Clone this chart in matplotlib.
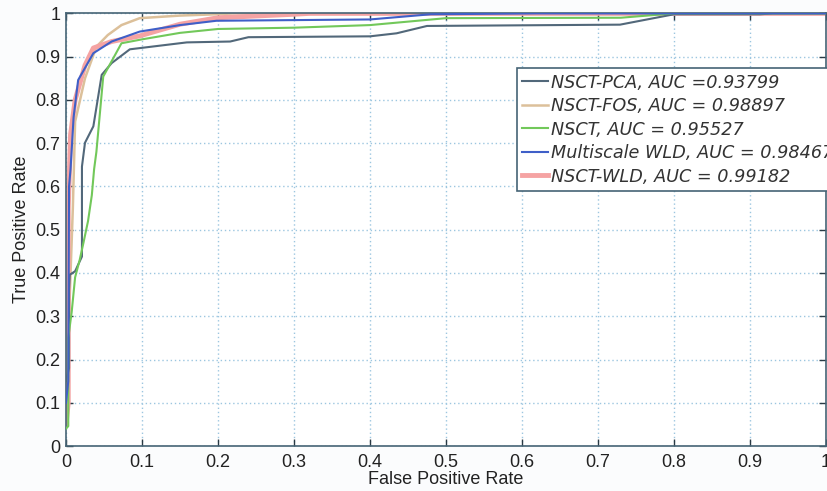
import numpy as np
import matplotlib.pyplot as plt

plt.rcParams['font.family'] = ['Liberation Sans', 'DejaVu Sans']

labels = ["NSCT-PCA, AUC =0.93799",
          "NSCT-FOS, AUC = 0.98897",
          "NSCT, AUC = 0.95527",
          "Multiscale WLD, AUC = 0.98467",
          "NSCT-WLD, AUC = 0.99182"]

pca_fpr = [0, 0.004, 0.004, 0.005, 0.012, 0.021, 0.021, 0.025, 0.036, 0.047, 0.06, 0.084,
           0.159, 0.216, 0.24, 0.40, 0.435, 0.475, 0.729, 0.80, 0.913, 0.93, 1.0]
pca_tpr = [0.15, 0.18, 0.36, 0.396, 0.404, 0.438, 0.646, 0.701, 0.739, 0.858, 0.885, 0.917,
           0.933, 0.935, 0.945, 0.947, 0.954, 0.971, 0.974, 0.998, 0.998, 1.0, 1.0]

fos_fpr = [0, 0.003, 0.006, 0.009, 0.012, 0.025, 0.04, 0.055, 0.073, 0.097, 0.15, 0.198, 0.22, 1.0]
fos_tpr = [0.22, 0.25, 0.40, 0.55, 0.75, 0.85, 0.923, 0.95, 0.973, 0.989, 0.995, 0.998, 1.0, 1.0]

nsct_fpr = [0, 0.003, 0.003, 0.0075, 0.012, 0.018, 0.023, 0.029, 0.034, 0.037, 0.040, 0.049,
            0.073, 0.1, 0.15, 0.2, 0.3, 0.4, 0.5, 0.73, 0.8, 1.0]
nsct_tpr = [0.04, 0.046, 0.25, 0.31, 0.39, 0.43, 0.47, 0.52, 0.58, 0.64, 0.68, 0.854,
            0.931, 0.94, 0.955, 0.964, 0.967, 0.973, 0.989, 0.99, 1.0, 1.0]

mwld_fpr = [0, 0.003, 0.004, 0.006, 0.01, 0.016, 0.036, 0.06, 0.097, 0.15, 0.198, 0.40,
            0.48, 0.62, 1.0]
mwld_tpr = [0.10, 0.15, 0.60, 0.64, 0.76, 0.846, 0.908, 0.935, 0.958, 0.973, 0.983, 0.986,
            0.998, 1.0, 1.0]

wld_fpr = [0, 0.003, 0.003, 0.006, 0.012, 0.025, 0.036, 0.06, 0.097, 0.15, 0.2, 0.3, 0.32, 1.0]
wld_tpr = [0.05, 0.10, 0.55, 0.72, 0.80, 0.88, 0.92, 0.935, 0.948, 0.975, 0.99, 0.998, 1.0, 1.0]

ticks = np.round(np.arange(0, 1.01, 0.1), 1)
tick_labels = ["0"] + [f"{t:g}" for t in ticks[1:-1]] + ["1"]

fig = plt.figure(figsize=(8.28, 4.91), dpi=100, facecolor='#fbfcfd')
ax = fig.add_axes([0.0797, 0.0916, 0.9179, 0.8811])
ax.set_facecolor('white')

ax.plot(pca_fpr, pca_tpr, color='#52687a', lw=1.5, label=labels[0], zorder=3)
ax.plot(fos_fpr, fos_tpr, color='#dcc09a', lw=1.8, label=labels[1], zorder=2)
ax.plot(nsct_fpr, nsct_tpr, color='#72c85a', lw=1.5, label=labels[2], zorder=3)
ax.plot(mwld_fpr, mwld_tpr, color='#3f5fc8', lw=1.5, label=labels[3], zorder=4)
ax.plot(wld_fpr, wld_tpr, color='#f5a3a3', lw=3.5, label=labels[4], zorder=2)

ax.set_xlim(0, 1)
ax.set_ylim(0, 1)
ax.set_xticks(ticks)
ax.set_yticks(ticks)
ax.set_xticklabels(tick_labels)
ax.set_yticklabels(tick_labels)
ax.tick_params(direction='in', length=5, width=1, colors='#2a3a44', labelsize=13,
               top=True, right=True, labelcolor='#222222')
ax.tick_params(axis='x', pad=6)
ax.tick_params(axis='y', pad=4)
ax.grid(True, linestyle=(0, (1, 2)), color='#9cc6e0', lw=1)
for s in ax.spines.values():
    s.set_color('#466475')
    s.set_linewidth(1.2)

ax.set_xlabel('False Positive Rate', fontsize=13, color='#222222', labelpad=0)
ax.set_ylabel('True Positive Rate', fontsize=13, color='#222222', labelpad=4)

leg = ax.legend(loc='upper left', bbox_to_anchor=(0.593, 0.873),
                prop={'family': 'DejaVu Sans', 'style': 'oblique', 'size': 12.7},
                handlelength=1.5, handletextpad=0.12,
                borderpad=0.3, labelspacing=0.31, fancybox=False, framealpha=1,
                edgecolor='#466475', borderaxespad=0)
leg.get_frame().set_linewidth(1.2)
for t in leg.get_texts():
    t.set_color('#333333')

fig.savefig('out.png', dpi=100, facecolor=fig.get_facecolor())
